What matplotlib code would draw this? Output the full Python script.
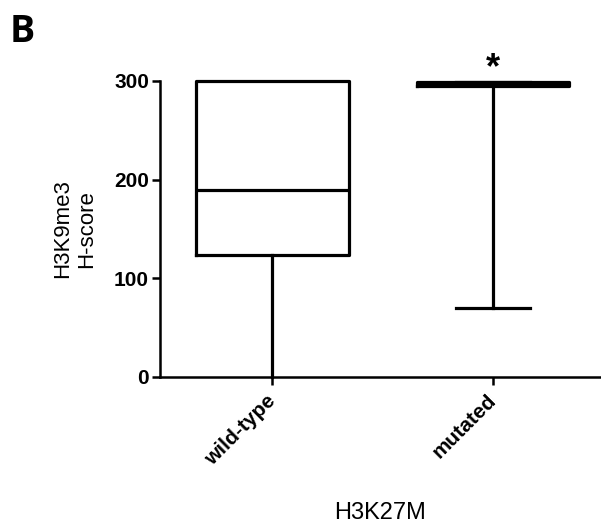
import matplotlib.pyplot as plt

# --- data ---
groups = ["wild-type", "mutated"]
whislo = [0, 70]
q1 = [124, 295]
med = [190, 297]
q3 = [300, 299]
whishi = [300, 299]
star_group = 2
star_text = "*"

plt.rcParams['font.family'] = ['Liberation Sans', 'DejaVu Sans']

fig = plt.figure(figsize=(6.01, 5.24), dpi=100)
ax = fig.add_axes([160 / 601, 1 - 377 / 524, 1 - 160 / 601, (377 - 81) / 524])

stats = []
for i, g in enumerate(groups):
    stats.append(dict(label=g, whislo=whislo[i], q1=q1[i], med=med[i],
                      q3=q3[i], whishi=whishi[i], fliers=[]))

lw = 2.3
arts = ax.bxp(stats, positions=[1, 2], widths=0.69, capwidths=[0.0, 0.335],
              showfliers=False, patch_artist=False,
              boxprops=dict(color="black", linewidth=lw),
              medianprops=dict(color="black", linewidth=lw),
              whiskerprops=dict(color="black", linewidth=lw),
              capprops=dict(color="black", linewidth=lw))
for key in arts:
    for a in arts[key]:
        a.set_clip_on(False)

ax.set_xlim(0.49, 2.49)
ax.set_ylim(0, 300)
ax.set_yticks([0, 100, 200, 300])

for s in ["top", "right"]:
    ax.spines[s].set_visible(False)
for s in ["left", "bottom"]:
    ax.spines[s].set_linewidth(1.8)

ax.tick_params(axis="both", width=1.8, length=6, direction="out")
ax.tick_params(axis="y", labelsize=15, pad=2)
ax.tick_params(axis="x", labelsize=15, pad=9)
for t in ax.get_yticklabels():
    t.set_fontweight("bold")
ax.set_xticks([1, 2])
ax.set_xticklabels(groups, rotation=45, ha="right", va="center",
                   rotation_mode="anchor", fontweight="bold")

ax.set_ylabel("H3K9me3\nH-score", fontsize=16, labelpad=12)
ax.set_xlabel("H3K27M", fontsize=17, labelpad=24)

ax.text(star_group, 303, star_text, ha="center", va="baseline",
        fontsize=26, fontweight="bold", clip_on=False)

fig.text(10 / 601, 1 - 42 / 524, "B", fontsize=27, fontweight="bold",
         family=["Open Sans", "DejaVu Sans"], ha="left", va="baseline")

fig.savefig("out.png", dpi=100)
